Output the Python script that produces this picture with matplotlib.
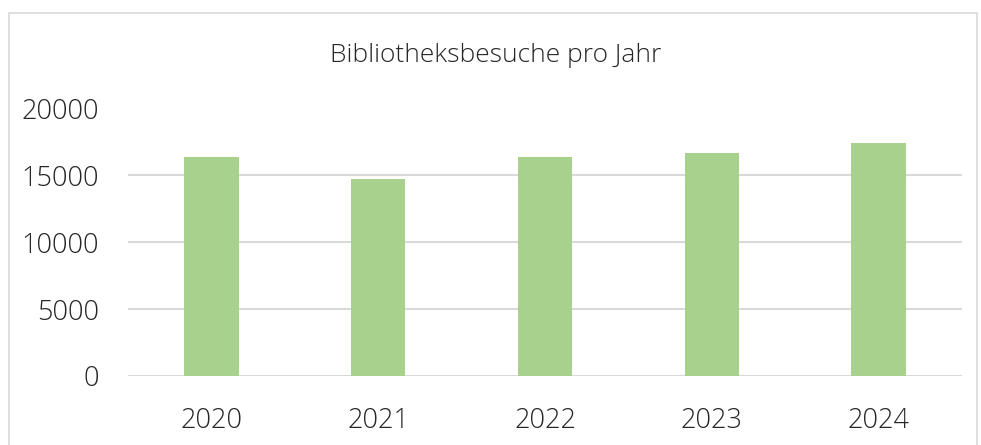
import matplotlib.pyplot as plt
from matplotlib.patches import Rectangle

years = ["2020", "2021", "2022", "2023", "2024"]
besuche = [16400, 14700, 16400, 16700, 17400]
yticks = [0, 5000, 10000, 15000, 20000]

plt.rcParams['font.family'] = ['Open Sans', 'DejaVu Sans']

fig = plt.figure(figsize=(9.81, 4.45), dpi=100)
ax = fig.add_axes([128/981, 1-376/445, (962-128)/981, (376-108.5)/445])

ax.bar(range(len(years)), besuche, width=0.325, color="#A9D18E", zorder=3)
ax.set_xlim(-0.5, len(years)-0.5)
ax.set_ylim(0, 20000)
ax.set_yticks(yticks)
ax.set_yticklabels([str(t) for t in yticks])
ax.set_xticks(range(len(years)))
ax.set_xticklabels(years)
ax.grid(axis='y', color="#D9D9D9", linewidth=1.5, zorder=0)
for s in ax.spines.values():
    s.set_visible(False)
ax.tick_params(length=0, labelsize=19.5, colors="#404040", labelcolor="#262626")
ax.tick_params(axis='y', pad=21)
ax.tick_params(axis='x', pad=22)
for lab in ax.get_xticklabels() + ax.get_yticklabels():
    lab.set_fontweight('light')

fig.text(496/981, 1-56/445, "Bibliotheksbesuche pro Jahr", ha='center', va='center',
         fontsize=19, color="#262626", fontweight='light')

# chart frame
fig.patches.append(Rectangle((9/981, -0.05), (977-9)/981, 1.05-13/445,
                             transform=fig.transFigure, fill=False,
                             edgecolor="#D9D9D9", linewidth=1.2))

fig.savefig("out.png", dpi=100)
